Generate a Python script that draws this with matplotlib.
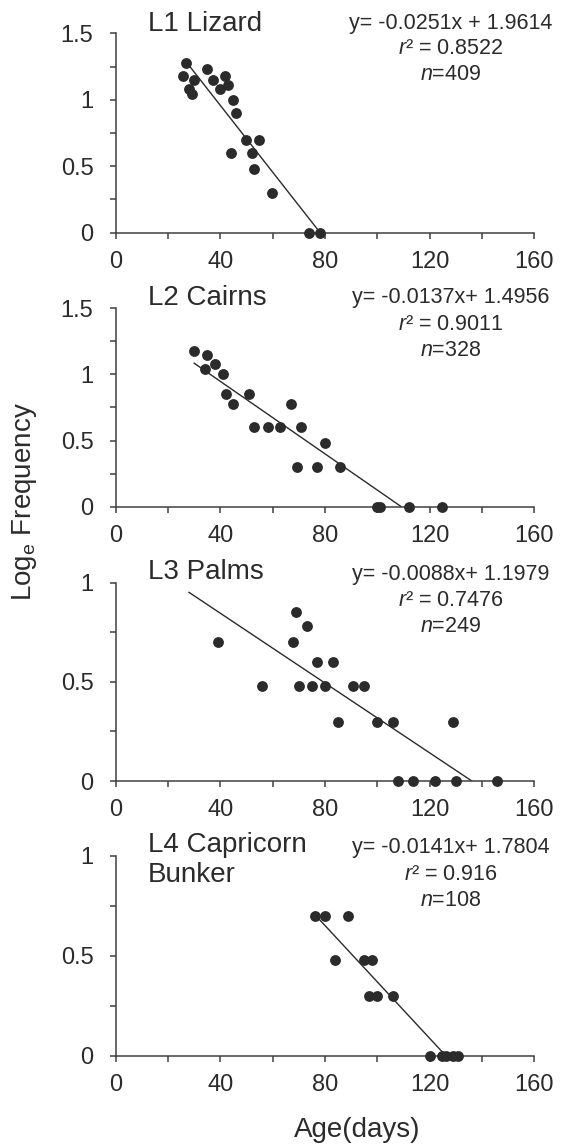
import numpy as np
import matplotlib
matplotlib.use("Agg")
import matplotlib.pyplot as plt
from matplotlib.ticker import MultipleLocator

plt.rcParams['font.family'] = ['Liberation Sans', 'DejaVu Sans']
plt.rcParams['mathtext.fontset'] = 'custom'
plt.rcParams['mathtext.rm'] = 'Liberation Sans'
plt.rcParams['mathtext.it'] = 'Liberation Sans:italic'
plt.rcParams['mathtext.default'] = 'regular'

# site names
titles = ['L1 Lizard', 'L2 Cairns', 'L3 Palms', 'L4 Capricorn\nBunker']

# age (days) and log frequency for each site
x1 = [25.9, 26.9, 28.2, 29.0, 30.1, 34.8, 37.1, 39.9, 41.9, 42.9, 44.2, 45.0, 46.0, 49.8, 52.0, 52.9, 54.9, 59.9, 73.9, 78.0]
y1 = [1.18, 1.28, 1.08, 1.04, 1.15, 1.23, 1.15, 1.08, 1.18, 1.11, 0.60, 1.00, 0.90, 0.70, 0.60, 0.48, 0.70, 0.30, 0, 0]

x2 = [30.1, 34.0, 34.8, 38.0, 40.9, 42.0, 45.0, 51.1, 52.9, 58.1, 62.8, 67.0, 69.2, 70.8, 76.9, 80.1, 85.9, 99.7, 101.0, 112.1, 124.6]
y2 = [1.18, 1.04, 1.15, 1.08, 1.00, 0.85, 0.78, 0.85, 0.60, 0.60, 0.60, 0.78, 0.30, 0.60, 0.30, 0.48, 0.30, 0, 0, 0, 0]

x3 = [39.0, 56.1, 67.9, 69.0, 69.9, 73.0, 74.9, 76.9, 80.1, 83.2, 84.8, 90.8, 95.0, 99.7, 105.9, 108.0, 113.8, 122.0, 129.0, 130.1, 145.6]
y3 = [0.70, 0.48, 0.70, 0.85, 0.48, 0.78, 0.48, 0.60, 0.48, 0.60, 0.30, 0.48, 0.48, 0.30, 0.30, 0, 0, 0, 0.30, 0, 0]

x4 = [76.2, 80.1, 84.0, 88.9, 94.9, 96.9, 98.1, 100.0, 105.9, 120.1, 124.6, 126.1, 129.0, 131.0]
y4 = [0.70, 0.70, 0.48, 0.70, 0.48, 0.30, 0.48, 0.30, 0.30, 0, 0, 0, 0, 0]

# regression results
slopes = [-0.0251, -0.0137, -0.0088, -0.0141]
intercepts = [1.9614, 1.4956, 1.1979, 1.7804]
fit_start = [28, 30, 28, 77.7]
eq_text = ['y= -0.0251x + 1.9614', 'y= -0.0137x+ 1.4956',
           'y= -0.0088x+ 1.1979', 'y= -0.0141x+ 1.7804']
r2 = ['0.8522', '0.9011', '0.7476', '0.916']
n_vals = ['409', '328', '249', '108']
ymax = [1.5, 1.5, 1, 1]

xs = [x1, x2, x3, x4]
ys = [y1, y2, y3, y4]

W, H = 564, 1145
fig = plt.figure(figsize=(W / 100, H / 100), dpi=100)

# axes top / bottom in pixels
tops = [33.3, 308.3, 582.7, 856]
bots = [232.7, 506.7, 781, 1056]
left, right = 115.7, 534.3
title_y = [24, 298, 572, 860]
eq_y = [23, 298, 575, 848]

dark = '#2b2b2b'
for i in range(4):
    ax = fig.add_axes([left / W, 1 - bots[i] / H, (right - left) / W, (bots[i] - tops[i]) / H])
    ax.set_xlim(0, 160)
    ax.set_ylim(0, ymax[i])
    a, b = slopes[i], intercepts[i]
    xf = np.array([fit_start[i], -b / a])
    ax.plot(xf, a * xf + b, color=dark, lw=1.0, zorder=2)
    ax.plot(xs[i], ys[i], 'o', color=dark, ms=7.8, mec='none', clip_on=False, zorder=3)

    for s in ['top', 'right']:
        ax.spines[s].set_visible(False)
    for s in ['left', 'bottom']:
        ax.spines[s].set_color('#404040')
        ax.spines[s].set_linewidth(1.1)
    ax.xaxis.set_major_locator(MultipleLocator(40))
    ax.xaxis.set_minor_locator(MultipleLocator(20))
    ax.yaxis.set_major_locator(MultipleLocator(0.5))
    ax.yaxis.set_minor_locator(MultipleLocator(0.25))
    ax.yaxis.set_major_formatter(plt.FuncFormatter(lambda v, p: ('%g' % v)))
    ax.tick_params(which='both', direction='out', length=4, width=1.1, color='#404040')
    ax.tick_params(axis='x', labelsize=17, pad=9, labelcolor=dark)
    ax.tick_params(axis='y', labelsize=17, pad=12, labelcolor=dark)

    fig.text(147.7 / W, 1 - title_y[i] / H, titles[i], fontsize=20, color=dark,
             ha='left', va='center', linespacing=1.25)
    cx = 451 / W
    fig.text(cx, 1 - eq_y[i] / H, eq_text[i], fontsize=15.5, color=dark, ha='center', va='center')
    fig.text(cx, 1 - (eq_y[i] + 26) / H, '$\\mathit{r}$² = ' + r2[i], fontsize=15.5, color=dark,
             ha='center', va='center')
    fig.text(cx, 1 - (eq_y[i] + 52) / H, '$\\mathit{n}$=' + n_vals[i], fontsize=15.5, color=dark,
             ha='center', va='center')

fig.text(25 / W, 1 - 502 / H, 'Log$_{e}$ Frequency', rotation=90, fontsize=20, color=dark,
         ha='center', va='center')
fig.text(357 / W, 1 - 1130 / H, 'Age(days)', fontsize=20, color=dark, ha='center', va='center')

fig.savefig('out.png', dpi=100)
